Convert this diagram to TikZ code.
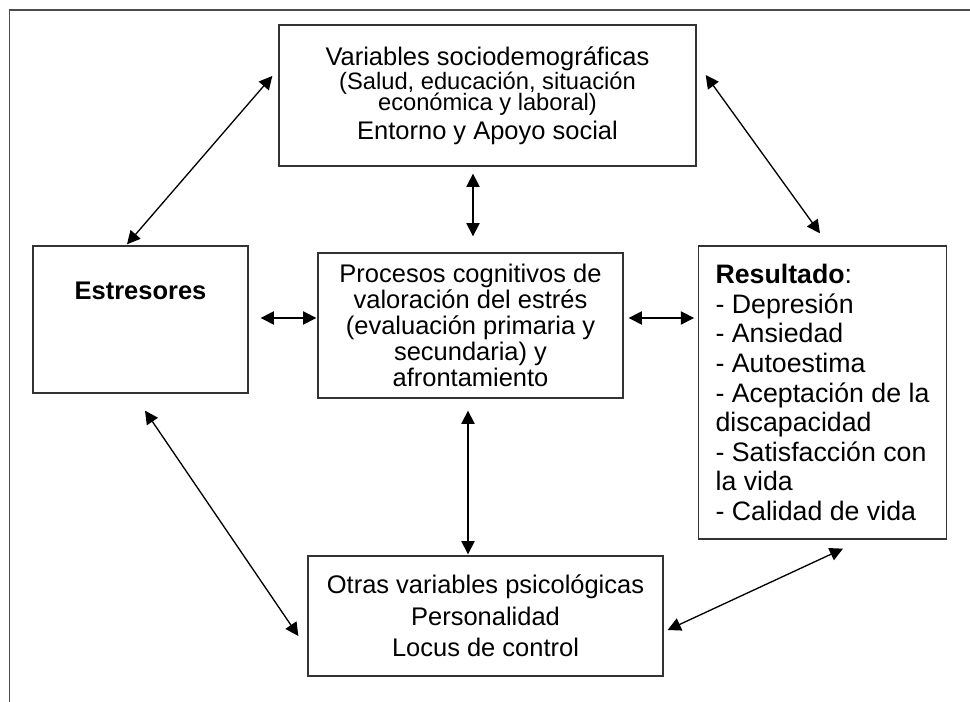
\documentclass[tikz,border=0pt]{standalone}
\usepackage{fontspec}
\setmainfont{Liberation Sans}
\usetikzlibrary{arrows.meta,calc}
\lineskiplimit=-20pt

\begin{document}
\begin{tikzpicture}[
  caja/.style={draw=black!80, line width=0.75pt, inner sep=0pt},
  flecha/.style={{Triangle[length=7.5pt,width=7.5pt]}-{Triangle[length=7.5pt,width=7.5pt]}, line width=0.75pt},
  font=\fontsize{14.5}{14.8}\selectfont
]
\useasboundingbox (0,0) rectangle (19.4,14.04);
\draw[black!70, line width=1.1pt] (0.19,0) -- (0.19,13.84) -- (19.4,13.84);

\node[caja, minimum width=8.34cm, minimum height=2.82cm, align=center,
      font=\fontsize{14.5}{12}\selectfont] (socio) at (9.75,12.13)
  {Variables sociodemográficas\\[1.7pt]
   {\fontsize{13.5}{12}\selectfont (Salud, educación, situación}\\
   {\fontsize{13.5}{12}\selectfont económica y laboral)}\\[4.5pt]
   Entorno y Apoyo social};
\node[caja, minimum width=4.3cm, minimum height=2.94cm] (estres) at (2.81,7.65) {};
\node[font=\fontsize{14.5}{14.8}\selectfont\bfseries] (estreslbl) at ($(estres.north)+(0,-0.92)$) {Estresores};
\node[caja, minimum width=6.1cm, minimum height=2.9cm, align=center] (proc) at (9.41,7.53)
  {Procesos cognitivos de\\valoración del estrés\\(evaluación primaria y\\secundaria) y\\afrontamiento};
\node[caja, minimum width=4.95cm, minimum height=5.86cm, align=left,
      font=\fontsize{15.2}{16.8}\selectfont] (result) at (16.45,6.19)
  {\textbf{Resultado}:\\- Depresión\\- Ansiedad\\- Autoestima\\- Aceptación de la\\discapacidad\\- Satisfacción con\\la vida\\- Calidad de vida};
\node[caja, minimum width=7.1cm, minimum height=2.4cm, align=center,
      font=\fontsize{14.5}{17.9}\selectfont] (otras) at (9.71,1.72)
  {Otras variables psicológicas\\Personalidad\\Locus de control};

\coordinate (ejeA) at (9.46,0);
\coordinate (ejeB) at (0,7.68);
\coordinate (ejeC) at (9.36,0);

\draw[flecha] ($(estres.north)+(-0.27,0.02)$) -- ($(socio.west)+(-0.12,0.39)$);
\draw[flecha] ($(socio.east)+(0.18,0.41)$) -- ($(result.north)+(-0.05,0.24)$);
\draw[flecha, shorten <=0.14cm, shorten >=0.32cm] (ejeA |- socio.south) -- (ejeA |- proc.north);
\draw[flecha, shorten <=0.24cm, shorten >=0.02cm] (estres.east |- ejeB) -- (proc.west |- ejeB);
\draw[flecha, shorten <=0.1cm, shorten >=0.08cm] (proc.east |- ejeB) -- (result.west |- ejeB);
\draw[flecha, shorten <=0.24cm, shorten >=0.02cm] (ejeC |- proc.south) -- (ejeC |- otras.north);
\draw[flecha] ($(estres.south)+(0.09,-0.34)$) -- ($(otras.west)+(-0.18,-0.4)$);
\draw[flecha] ($(result.south)+(0.41,-0.18)$) -- ($(otras.east)+(0.08,-0.28)$);
\end{tikzpicture}
\end{document}
